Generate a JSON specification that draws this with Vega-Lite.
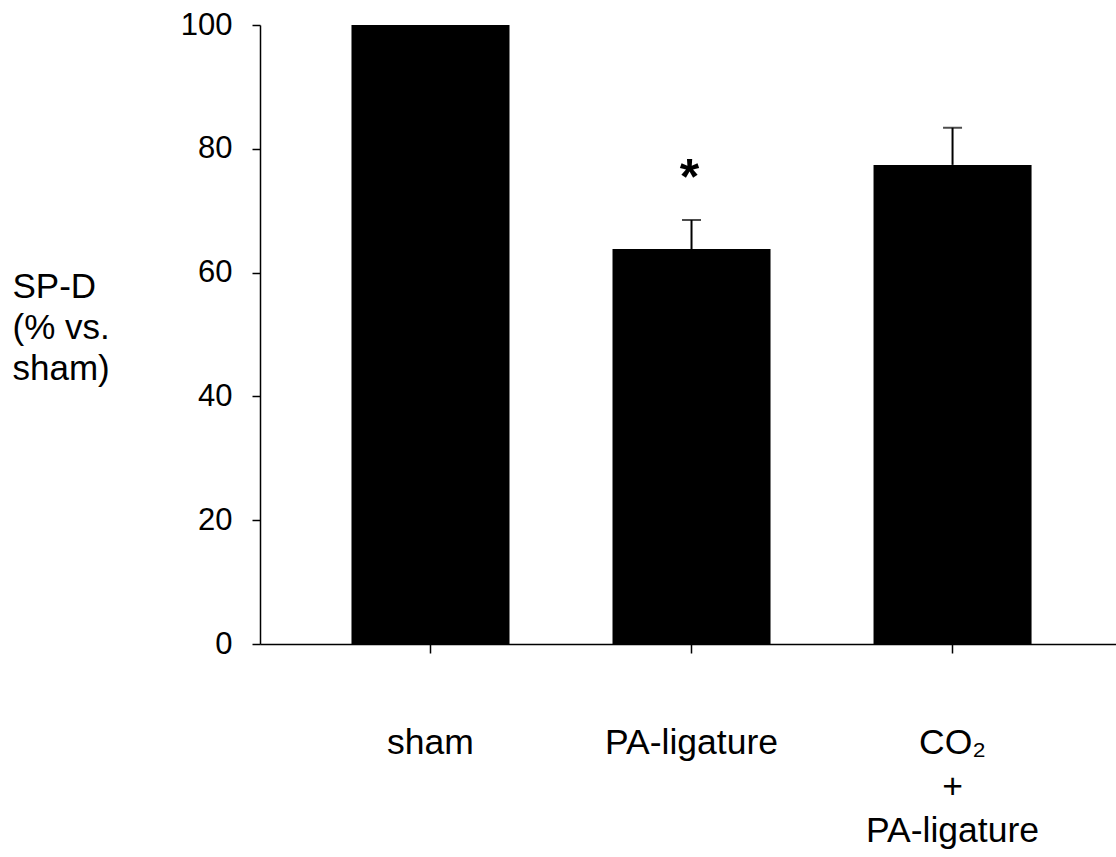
{
  "$schema": "https://vega.github.io/schema/vega-lite/v6.json",
  "autosize": {"type": "none"},
  "padding": {"left": 260, "top": 25, "right": 0, "bottom": 213},
  "width": 856,
  "height": 619,
  "background": "white",
  "config": {
    "view": {"stroke": null},
    "font": "Liberation Sans",
    "axis": {
      "domainColor": "black",
      "domainWidth": 1.5,
      "tickColor": "black",
      "tickWidth": 1.5,
      "labelColor": "black",
      "titleColor": "black",
      "labelFont": "Liberation Sans",
      "titleFont": "Liberation Sans",
      "labelFontSize": 31,
      "titleFontSize": 35,
      "grid": false
    }
  },
  "data": {
    "values": [
      {"group": "sham", "value": 100},
      {"group": "PA-ligature", "value": 63.8, "upper": 68.5, "star": "*"},
      {"group": "CO₂|+|PA-ligature", "value": 77.4, "upper": 83.4}
    ]
  },
  "encoding": {
    "x": {
      "field": "group",
      "type": "nominal",
      "sort": null,
      "scale": {"paddingInner": 0.3946, "paddingOuter": 0.337, "align": 0.52},
      "axis": {
        "title": null,
        "labelAngle": 0,
        "labelBaseline": "alphabetic",
        "labelPadding": 100,
        "labelFontSize": 35.5,
        "labelLineHeight": 44,
        "labelExpr": "split(datum.label, '|')",
        "tickSize": 9,
        "domainColor": "black"
      }
    }
  },
  "layer": [
    {
      "mark": {"type": "bar", "color": "black"},
      "encoding": {
        "y": {
          "field": "value",
          "type": "quantitative",
          "scale": {"domain": [0, 100], "nice": false},
          "axis": {
            "values": [0, 20, 40, 60, 80, 100],
            "tickSize": 8,
            "labelPadding": 20,
            "labelBaseline": "middle",
            "title": ["SP-D", "(% vs.", "sham)"],
            "titleAngle": 0,
            "titleAlign": "left",
            "titleBaseline": "alphabetic",
            "titleX": -248,
            "titleY": 272,
            "titleLineHeight": 41,
            "titleFontWeight": "normal"
          }
        }
      }
    },
    {
      "mark": {"type": "rule", "color": "black", "strokeWidth": 2},
      "encoding": {
        "y": {"field": "value", "type": "quantitative"},
        "y2": {"field": "upper"}
      }
    },
    {
      "mark": {"type": "tick", "color": "black", "thickness": 2, "size": 19, "orient": "horizontal"},
      "encoding": {
        "y": {"field": "upper", "type": "quantitative"}
      }
    },
    {
      "mark": {"type": "text", "font": "Liberation Sans", "fontWeight": "bold", "fontSize": 50, "baseline": "alphabetic", "dx": -2, "color": "black"},
      "encoding": {
        "y": {"field": "star_y", "type": "quantitative"},
        "text": {"field": "star"}
      },
      "transform": [{"filter": "datum.star"}, {"calculate": "72.7", "as": "star_y"}]
    }
  ]
}
